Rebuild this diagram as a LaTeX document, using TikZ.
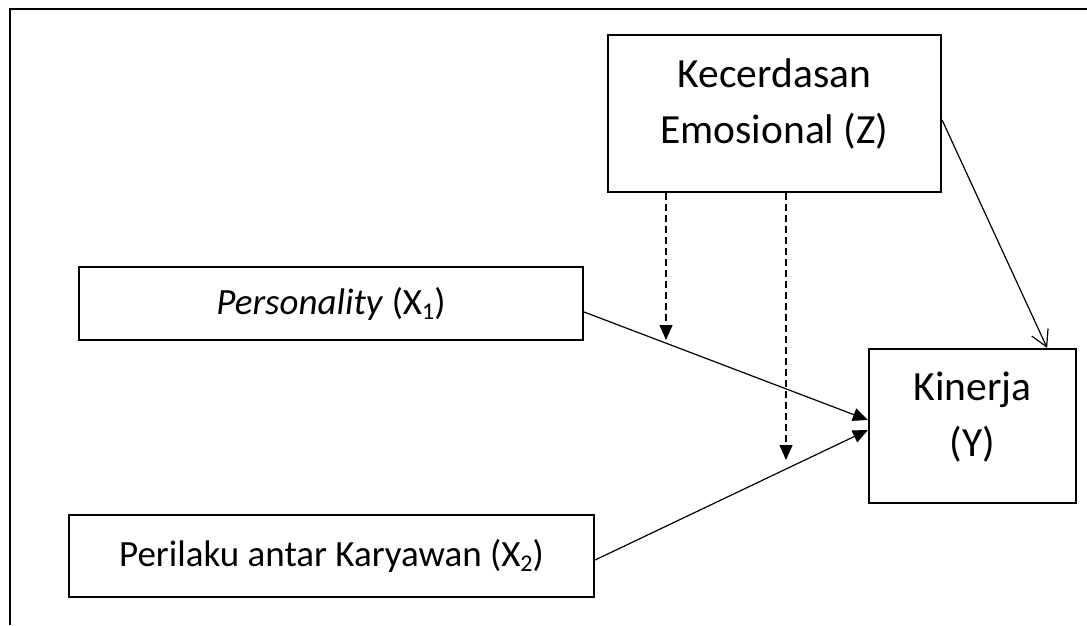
\documentclass[tikz,border=0pt]{standalone}
\usepackage{fontspec}
\setmainfont{Carlito}
\usetikzlibrary{arrows.meta,calc}
\newcommand\zyfont{\fontsize{41.5}{56}\selectfont}
\newcommand\xfont{\fontsize{37}{45}\selectfont}
\newcommand\subidx[1]{\raisebox{-5pt}{\fontsize{24}{24}\selectfont #1}}
\begin{document}
\begin{tikzpicture}[x=1pt,y=-1pt,
  box/.style={draw, line width=2.2pt, inner sep=0pt},
  conn/.style={line width=1.2pt},
  tipf/.style={-{Triangle[length=15pt,width=13pt]}},
  tipo/.style={-{Straight Barb[length=16pt,width=18pt]}},
  dashline/.style={dash pattern=on 7pt off 4pt}]
\useasboundingbox (0,0) rectangle (1087,625);
\draw[line width=2.2pt] (10,625) -- (10,9) -- (1087,9);

\node[box, minimum width=333pt, minimum height=157pt] (z) at (774.5,113.5)
  {\zyfont\raisebox{26.5pt}[0pt][0pt]{\begin{tabular}[t]{@{}c@{}}Kecerdasan\\Emosional (Z)\end{tabular}}};
\node[box, minimum width=207pt, minimum height=154pt] (y) at (972.5,426)
  {\zyfont\raisebox{26pt}[0pt][0pt]{\begin{tabular}[t]{@{}c@{}}Kinerja\\(Y)\end{tabular}}};
\node[box, minimum width=504pt, minimum height=73pt] (x1) at (331,303.5)
  {\xfont\textit{Personality} (X\subidx{1})};
\node[box, minimum width=525pt, minimum height=82pt] (x2) at (331.5,556)
  {\xfont Perilaku antar Karyawan (X\subidx{2})};

\coordinate (d1) at (666,340);
\coordinate (d2) at (786,460);

\draw[conn, tipf] ($(x1.east)+(0,8.5)$) -- ($(y.west)+(0,-6)$);
\draw[conn, tipf] ($(x2.east)+(0,4)$) -- ($(y.west)+(0,4)$);
\draw[conn, tipo] ($(z.east)+(0,6.5)$) -- ($(y.north east)+(-30,0)$);
\draw[conn, dashline, tipf] (z.south -| d1) -- (d1);
\draw[conn, dashline, tipf] (z.south -| d2) -- (d2);
\end{tikzpicture}
\end{document}
